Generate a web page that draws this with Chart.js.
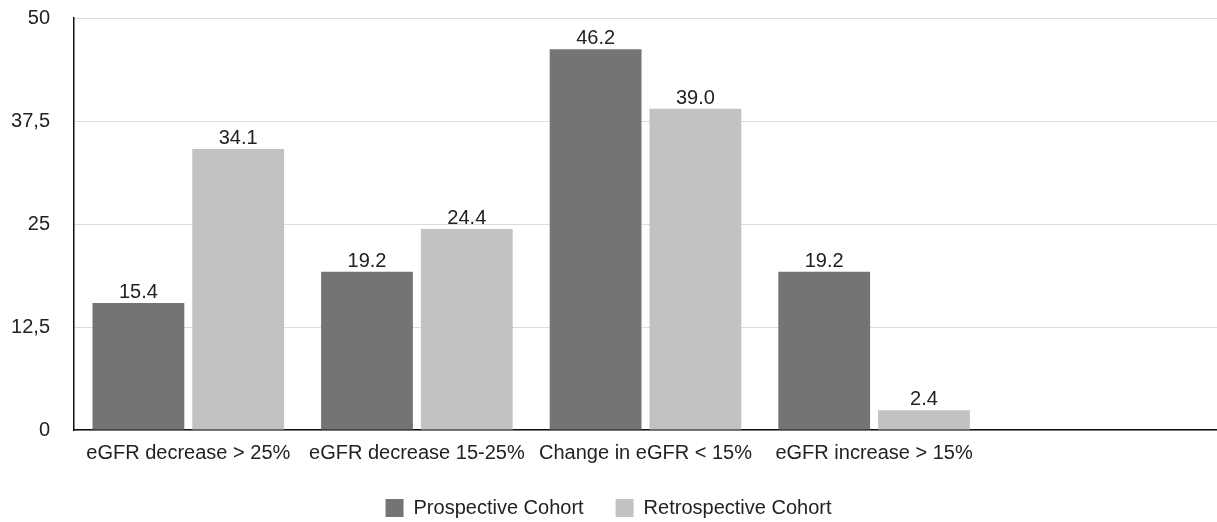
<!DOCTYPE html>
<html>
<head>
<meta charset="utf-8">
<script src="https://cdn.jsdelivr.net/npm/chart.js@4/dist/chart.umd.min.js"></script>
<style>
  html, body { margin: 0; padding: 0; background: #fff; }
  #wrap { width: 1217px; height: 522px; position: relative; }
</style>
</head>
<body>
<div id="wrap"><canvas id="chart"></canvas></div>
<script>
const categories = ['eGFR decrease > 25%', 'eGFR decrease 15-25%', 'Change in eGFR < 15%', 'eGFR increase > 15%', ''];
const prospective = [15.4, 19.2, 46.2, 19.2, null];
const retrospective = [34.1, 24.4, 39.0, 2.4, null];
const yTicks = [0, 12.5, 25, 37.5, 50];

const FONT = 'Liberation Sans, Arial, Helvetica, sans-serif';
Chart.defaults.font.family = FONT;
Chart.defaults.color = '#222';

// values printed above each bar
const valueLabels = {
    id: 'valueLabels',
    afterDatasetsDraw(chart) {
        const ctx = chart.ctx;
        ctx.save();
        ctx.font = '20px ' + FONT;
        ctx.fillStyle = '#222';
        ctx.textAlign = 'center';
        ctx.textBaseline = 'alphabetic';
        chart.data.datasets.forEach((ds, i) => {
            chart.getDatasetMeta(i).data.forEach((bar, j) => {
                const v = ds.data[j];
                if (v === null) return;
                ctx.fillText(v.toFixed(1), bar.x, bar.y - 5);
            });
        });
        ctx.restore();
    },
};

new Chart(document.getElementById('chart'), {
    type: 'bar',
    data: {
        labels: categories,
        datasets: [
            {
                label: 'Prospective Cohort',
                data: prospective,
                backgroundColor: '#737473',
                categoryPercentage: 0.873,
                barPercentage: 0.92,
            },
            {
                label: 'Retrospective Cohort',
                data: retrospective,
                backgroundColor: '#c1c2c1',
                categoryPercentage: 0.873,
                barPercentage: 0.92,
            },
        ],
    },
    options: {
        responsive: true,
        maintainAspectRatio: false,
        animation: false,
        layout: { padding: { top: 18, right: 0, left: 0, bottom: -6 } },
        scales: {
            x: {
                grid: { display: false },
                border: { color: '#111', width: 1.5 },
                ticks: { font: { size: 20 }, color: '#222', maxRotation: 0, padding: 3 },
                afterFit: (scale) => {
                    scale.height = 36;
                },
            },
            y: {
                min: 0,
                max: 50,
                afterBuildTicks: (scale) => {
                    scale.ticks = yTicks.map((v) => ({ value: v }));
                },
                afterFit: (scale) => {
                    scale.width = 74;
                    scale.paddingTop = 0;
                    scale.paddingBottom = 0;
                },
                grid: { color: '#dcdcdc', drawTicks: false },
                border: { color: '#111', width: 1.5 },
                ticks: {
                    font: { size: 20 },
                    color: '#222',
                    padding: 24,
                    callback: (value) => String(value).replace('.', ','),
                },
            },
        },
        plugins: {
            legend: {
                position: 'bottom',
                labels: {
                    boxWidth: 18,
                    boxHeight: 18,
                    padding: 32,
                    font: { size: 20 },
                    color: '#222',
                },
            },
            tooltip: { enabled: false },
        },
    },
    plugins: [valueLabels],
});
</script>
</body>
</html>
